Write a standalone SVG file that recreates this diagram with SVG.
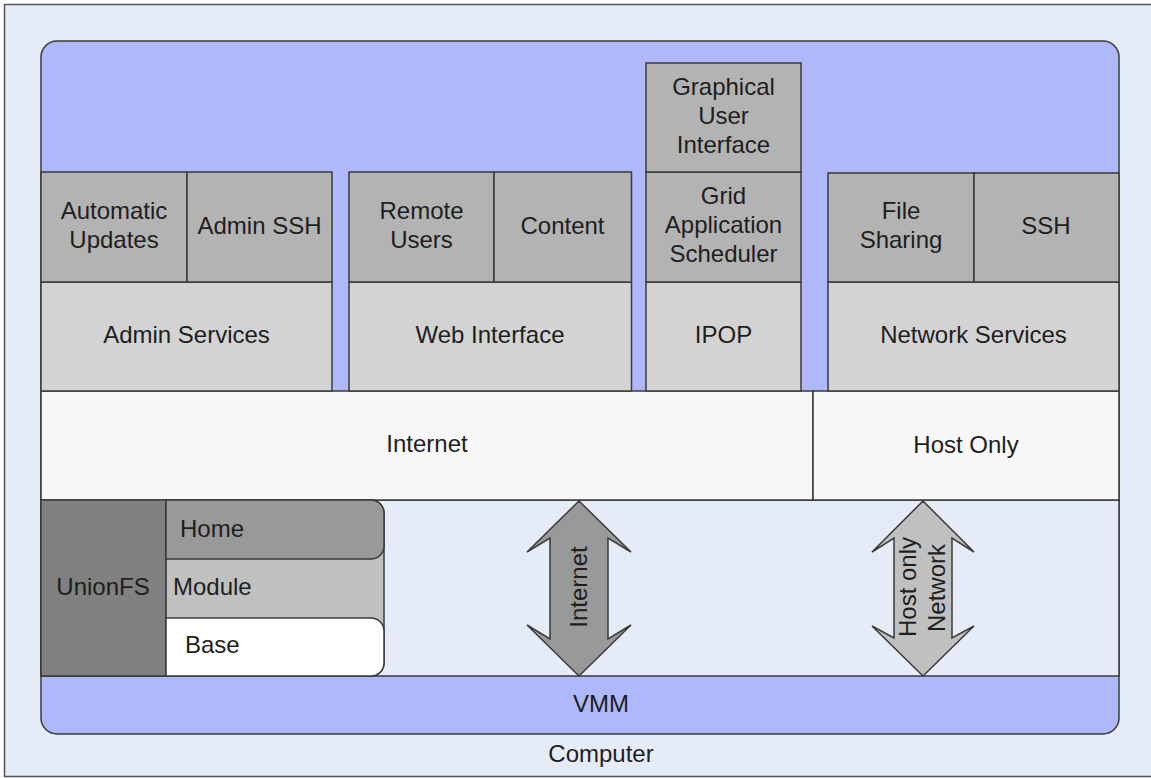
<svg xmlns="http://www.w3.org/2000/svg" width="1151" height="778" viewBox="0 0 1151 778">
<style>
text{font-family:"Liberation Sans",Arial,sans-serif;font-size:24px;fill:#1e1e1e}
.c{text-anchor:middle}
.box{stroke:#3a3a3a;stroke-width:1.5}
.up{fill:#b3b3b3}
.svc{fill:#d3d3d3}
.net{fill:#f7f7f7}
</style>
<rect x="4.5" y="4.5" width="1150" height="772" fill="#e6ecf7" stroke="#555" stroke-width="1.5"/>
<g id="computer"><text class="c" x="601" y="762">Computer</text></g>
<g id="vmm">
<rect x="41" y="41" width="1078" height="693" rx="16" fill="#afb8fa" class="box"/>
<text class="c" x="601" y="712">VMM</text>
</g>
<rect x="41" y="500" width="1078" height="176" fill="#e6ecf7" class="box"/>
<g id="internet-row"><rect x="41" y="391" width="772" height="109" class="box net"/><text class="c" x="427" y="452">Internet</text></g>
<g id="host-only-row"><rect x="813" y="391" width="306" height="109" class="box net"/><text class="c" x="966" y="453">Host Only</text></g>
<g id="admin-services"><rect x="41" y="282" width="291" height="109" class="box svc"/><text class="c" x="186.5" y="343">Admin Services</text></g>
<g id="automatic-updates"><rect x="41" y="172" width="146" height="110" class="box up"/><text class="c" x="114" y="219">Automatic</text><text class="c" x="114" y="248">Updates</text></g>
<g id="admin-ssh"><rect x="187" y="172" width="145" height="110" class="box up"/><text class="c" x="259.5" y="234">Admin SSH</text></g>
<g id="web-interface"><rect x="349" y="282" width="282.5" height="109" class="box svc"/><text class="c" x="490" y="343">Web Interface</text></g>
<g id="remote-users"><rect x="349" y="172" width="145" height="110" class="box up"/><text class="c" x="421.5" y="219">Remote</text><text class="c" x="421.5" y="248">Users</text></g>
<g id="content"><rect x="494" y="172" width="137.5" height="110" class="box up"/><text class="c" x="562.5" y="234">Content</text></g>
<g id="ipop"><rect x="646" y="282" width="155" height="109" class="box svc"/><text class="c" x="723.5" y="343">IPOP</text></g>
<g id="grid-scheduler"><rect x="646" y="172" width="155" height="110" class="box up"/><text class="c" x="723.5" y="204">Grid</text><text class="c" x="723.5" y="233">Application</text><text class="c" x="723.5" y="262">Scheduler</text></g>
<g id="gui"><rect x="646" y="63" width="155" height="109" class="box up"/><text class="c" x="723.5" y="95">Graphical</text><text class="c" x="723.5" y="124">User</text><text class="c" x="723.5" y="153">Interface</text></g>
<g id="network-services"><rect x="828" y="282" width="291" height="109" class="box svc"/><text class="c" x="973.5" y="343">Network Services</text></g>
<g id="file-sharing"><rect x="828" y="173" width="146" height="109" class="box up"/><text class="c" x="901" y="219">File</text><text class="c" x="901" y="248">Sharing</text></g>
<g id="ssh"><rect x="974" y="173" width="145" height="109" class="box up"/><text class="c" x="1046" y="234">SSH</text></g>
<g id="unionfs"><rect x="41" y="500" width="125" height="176" fill="#808080" class="box"/><text class="c" x="103" y="595">UnionFS</text></g>
<g id="module"><path d="M166,500H371A13,13 0 0 1 384,513V663A13,13 0 0 1 371,676H166Z" fill="#c0c0c0" class="box"/><text x="173" y="595">Module</text></g>
<g id="home"><path d="M166,500H371A13,13 0 0 1 384,513V546A13,13 0 0 1 371,559H166Z" fill="#999" class="box"/><text x="180" y="537">Home</text></g>
<g id="base"><path d="M166,618H371A13,13 0 0 1 384,631V663A13,13 0 0 1 371,676H166Z" fill="#fff" class="box"/><text x="185" y="653">Base</text></g>
<g id="connectors">
<g id="internet-arrow"><polygon points="579,501 631,552 608,538 608,639 631,625 579,676 527,625 550,639 550,538 527,552" fill="#999" class="box"/><text class="c" transform="translate(586.5,587) rotate(-90)">Internet</text></g>
<g id="host-arrow"><polygon points="923,501 974,552 952,538 952,638 974,626 923,676 872,626 894,638 894,538 872,552" fill="#c0c0c0" class="box"/><text class="c" transform="translate(915.5,587) rotate(-90)">Host only</text><text class="c" transform="translate(944.5,588) rotate(-90)">Network</text></g>
</g>
</svg>
